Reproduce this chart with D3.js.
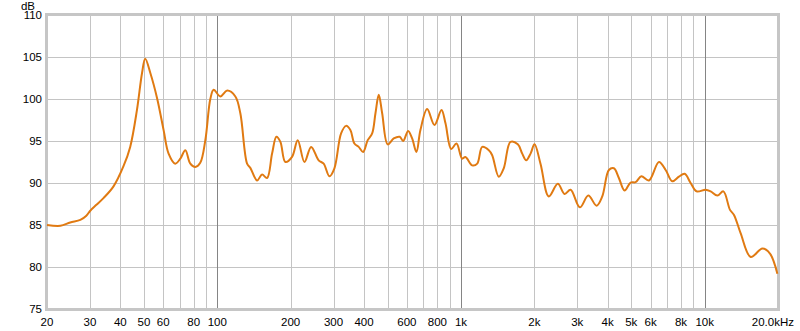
<!DOCTYPE html>
<html>
<head>
<meta charset="utf-8">
<title>Frequency response</title>
<script src="https://d3js.org/d3.v7.min.js"></script>
<style>
  body { margin: 0; background: #fff; }
  text { font-family: 'Liberation Sans', Arial, sans-serif; font-size: 11.5px; fill: #000; }
</style>
</head>
<body>
<script>
// measured response, frequency in Hz and level in dB
var freqs = [20, 22.7, 24.9, 27.4, 29.0, 30.1, 31.9, 34.1, 37.5, 41.2, 43.9, 46.8, 49.1, 50.6, 53.1, 56.6,
  60.2, 63.1, 67.2, 70.5, 73.9, 77.5, 81.2, 85.1, 89.3, 93.6, 96.6, 102.9, 109.7, 118.6, 124.3, 132.5,
  136.6, 145.6, 152.6, 160, 167.8, 174.8, 181.5, 190.2, 202.6, 213.8, 227.8, 242.7, 260.6, 273.2,
  288.4, 302.4, 322.1, 337.7, 351.6, 365.3, 380.3, 396.6, 414.2, 432, 445.7, 459.8, 474.8, 500.4,
  529.7, 560.6, 579, 606.9, 630.3, 656.4, 681.6, 726.3, 778.2, 831.7, 863.8, 911.7, 958.6, 1011,
  1043, 1112, 1166, 1222, 1301, 1343, 1429, 1498, 1597, 1711, 1784, 1852, 1930, 2004, 2120, 2293,
  2497, 2662, 2817, 3076, 3331, 3603, 3801, 4046, 4242, 4446, 4692, 4966, 5207, 5496, 5902, 6492,
  6917, 7368, 7842, 8276, 8760, 9272, 10093, 10582, 11275, 11935, 12706, 13194, 14058, 15454,
  17261, 18539, 19884];
var levels = [85.0, 84.9, 85.3, 85.6, 86.1, 86.7, 87.4, 88.2, 89.6, 92.0, 94.3, 98.7, 103.1, 104.8, 103.1, 100.1,
  96.3, 93.5, 92.3, 92.9, 93.9, 92.3, 91.9, 92.4, 95.1, 100.0, 101.1, 100.3, 101.0, 100.3, 98.3, 92.3,
  91.8, 90.3, 91.0, 90.6, 93.5, 95.5, 94.9, 92.5, 93.1, 95.1, 92.5, 94.3, 92.7, 92.3,
  90.8, 91.75, 95.9, 96.8, 96.3, 94.7, 94.3, 93.7, 95.1, 95.9, 98.3, 100.5, 98.3, 94.6,
  95.3, 95.5, 95.0, 96.2, 95.3, 93.7, 96.3, 98.8, 96.9, 98.7, 97.1, 94.05, 94.7, 92.9,
  93.1, 92.1, 92.3, 94.3, 93.9, 93.3, 90.75, 91.75, 94.9, 94.6, 93.5, 92.7, 93.5, 94.6, 92.3, 88.4,
  89.9, 88.7, 89.2, 87.1, 88.5, 87.3, 88.4, 91.55, 91.75, 90.6, 89.1, 90.05, 90.1, 90.8, 90.3, 92.5,
  91.55, 90.2, 90.75, 91.1, 90.0, 89.0, 89.2, 89.0, 88.5, 89.0, 86.8, 86.2, 84.0, 81.2,
  82.2, 81.6, 79.2];

var gridFreqs = [30, 40, 50, 60, 70, 80, 90, 100, 200, 300, 400, 500, 600, 700, 800, 900, 1000,
  2000, 3000, 4000, 5000, 6000, 7000, 8000, 9000, 10000];
var decadeFreqs = [100, 1000, 10000];
var tickFreqs = [20, 30, 40, 50, 60, 80, 100, 200, 300, 400, 600, 800, 1000, 2000, 3000, 4000,
  5000, 6000, 8000, 10000, 20000];
var tickLabels = ["20", "30", "40", "50", "60", "80", "100", "200", "300", "400", "600", "800", "1k",
  "2k", "3k", "4k", "5k", "6k", "8k", "10k", "20.0kHz"];
var dbTicks = [75, 80, 85, 90, 95, 100, 105, 110];

var W = 800, H = 331;
var margin = {top: 15, right: 22, bottom: 22, left: 47};

var svg = d3.select("body").append("svg")
  .attr("width", W)
  .attr("height", H);

var x = d3.scaleLog().domain([20, 20000]).range([margin.left, W - margin.right]);
var y = d3.scaleLinear().domain([75, 110]).range([H - margin.bottom, margin.top]);

var x0 = x.range()[0], x1 = x.range()[1];
var yTop = y.range()[1], yBot = y.range()[0];

// grid
svg.append("g").selectAll("line.h")
  .data(dbTicks)
  .enter().append("line")
  .attr("x1", x0).attr("x2", x1)
  .attr("y1", function(d) { return Math.round(y(d)) + 0.5; })
  .attr("y2", function(d) { return Math.round(y(d)) + 0.5; })
  .attr("stroke", "#c4c4c4");

svg.append("g").selectAll("line.v")
  .data(gridFreqs)
  .enter().append("line")
  .attr("x1", function(d) { return Math.round(x(d)) + 0.5; })
  .attr("x2", function(d) { return Math.round(x(d)) + 0.5; })
  .attr("y1", yTop).attr("y2", yBot)
  .attr("stroke", function(d) { return decadeFreqs.indexOf(d) > -1 ? "#858585" : "#c4c4c4"; });

// frame
svg.append("rect")
  .attr("x", x0 - 0.5).attr("y", yTop - 0.5)
  .attr("width", x1 - x0 + 1).attr("height", yBot - yTop + 1)
  .attr("fill", "none")
  .attr("stroke", "#c6c6c6")
  .attr("stroke-width", 3);

// y labels
svg.append("g").selectAll("text")
  .data(dbTicks)
  .enter().append("text")
  .attr("x", 42)
  .attr("y", function(d) { return y(d) + 4; })
  .attr("text-anchor", "end")
  .text(function(d) { return d; });

svg.append("text")
  .attr("x", 35).attr("y", 10)
  .attr("text-anchor", "end")
  .text("dB");

// x labels
svg.append("g").selectAll("text")
  .data(tickFreqs)
  .enter().append("text")
  .attr("x", function(d, i) { return i == tickFreqs.length - 1 ? 794 : x(d); })
  .attr("y", 326)
  .attr("text-anchor", function(d, i) { return i == tickFreqs.length - 1 ? "end" : "middle"; })
  .text(function(d, i) { return tickLabels[i]; });

// response curve
var line = d3.line()
  .x(function(d, i) { return x(freqs[i]); })
  .y(function(d) { return y(d); })
  .curve(d3.curveCatmullRom.alpha(0.5));

svg.append("path")
  .datum(levels)
  .attr("fill", "none")
  .attr("stroke", "#e07a12")
  .attr("stroke-width", 2)
  .attr("stroke-linejoin", "round")
  .attr("d", line);
</script>
</body>
</html>
